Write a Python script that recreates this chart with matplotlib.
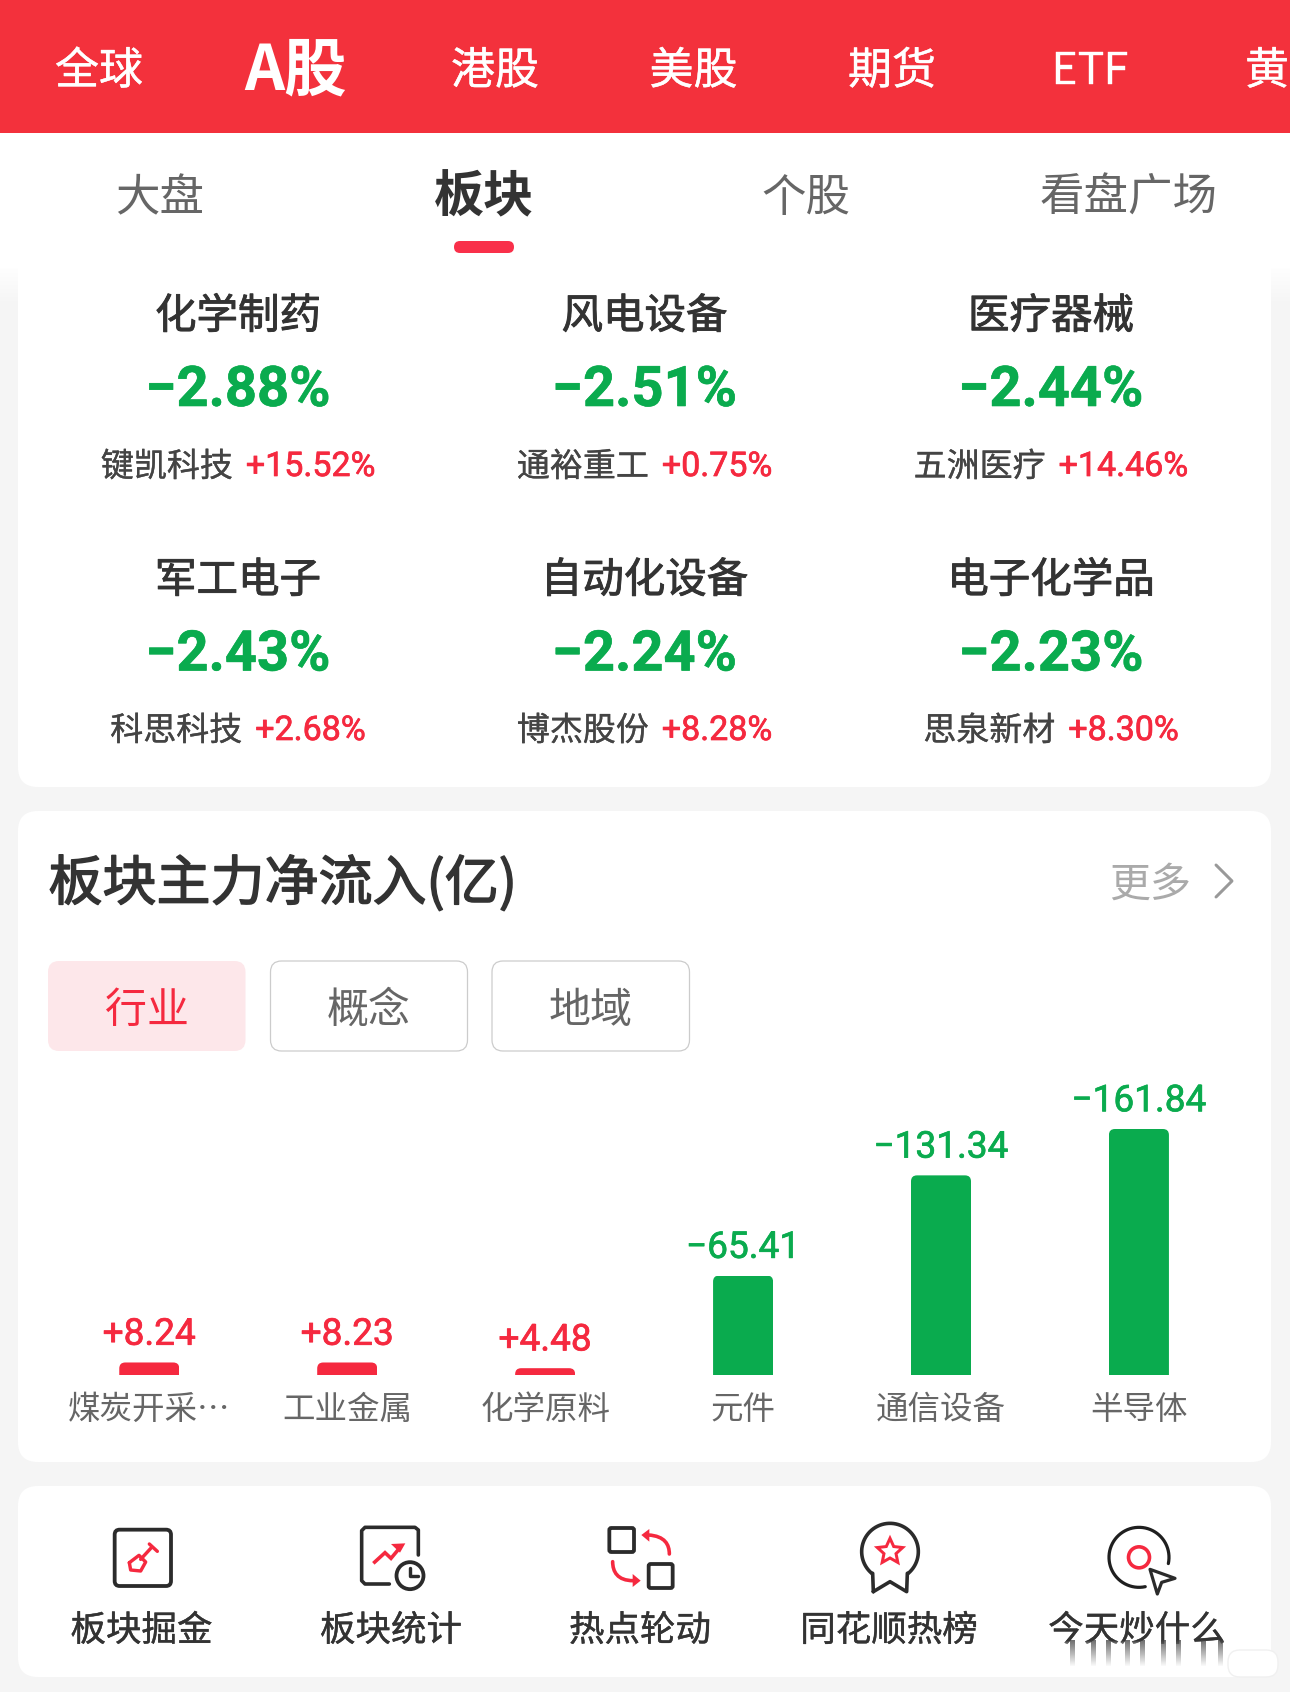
import numpy as np
import matplotlib
matplotlib.use("Agg")
import matplotlib.pyplot as plt
import matplotlib.patheffects as pe
from matplotlib.patches import FancyBboxPatch, Polygon, Circle
from matplotlib.path import Path
from matplotlib.patches import PathPatch
from matplotlib.transforms import IdentityTransform

# ---------- data ----------
market_tabs = ["全球", "A股", "港股", "美股", "期货", "ETF", "黄"]
view_tabs = ["大盘", "板块", "个股", "看盘广场"]
sector_names = ["化学制药", "风电设备", "医疗器械", "军工电子", "自动化设备", "电子化学品"]
sector_changes = ["−2.88%", "−2.51%", "−2.44%", "−2.43%", "−2.24%", "−2.23%"]
leader_names = ["键凯科技", "通裕重工", "五洲医疗", "科思科技", "博杰股份", "思泉新材"]
leader_changes = ["+15.52%", "+0.75%", "+14.46%", "+2.68%", "+8.28%", "+8.30%"]
chart_title = "板块主力净流入(亿)"
filter_tabs = ["行业", "概念", "地域"]
flow_categories = ["煤炭开采…", "工业金属", "化学原料", "元件", "通信设备", "半导体"]
flow_values = [8.24, 8.23, 4.48, -65.41, -131.34, -161.84]
tool_labels = ["板块掘金", "板块统计", "热点轮动", "同花顺热榜", "今天炒什么"]

# ---------- style ----------
CJK = ["Noto Sans CJK SC", "DejaVu Sans"]
NUM = ["Roboto", "DejaVu Sans"]
RED = "#f5293f"
GREEN = "#0aab4e"
HEAD = "#f3313c"
DARK = "#333333"
GRAY = "#666666"
BG = "#f5f5f5"
W, H = 1290, 1692

fig = plt.figure(figsize=(W / 100, H / 100), dpi=100, facecolor=BG)
bg = fig.add_axes([0, 0, 1, 1], zorder=0)
bg.set_xlim(0, W)
bg.set_ylim(H, 0)
bg.axis("off")
P = 0.72  # px -> pt


def T(x, y, s, px, color=DARK, weight="normal", family=CJK, ha="center", va="center", ax=bg, stroke=0):
    t = ax.text(x, y, s, fontsize=px * P, color=color, fontweight=weight,
                family=family, ha=ha, va=va, clip_on=False)
    if stroke:
        t.set_path_effects([pe.withStroke(linewidth=stroke * P, foreground=color)])
    return t


def box(x0, y0, x1, y1, r, fc="white", ec="none", lw=0, z=1):
    p = FancyBboxPatch((x0, y0), x1 - x0, y1 - y0,
                       boxstyle=f"round,pad=0,rounding_size={r}",
                       fc=fc, ec=ec, lw=lw, zorder=z, mutation_aspect=1)
    bg.add_patch(p)
    return p


def line(pts, color=DARK, lw=3.2, z=3, join="round", cap="round"):
    pts = np.asarray(pts, float)
    bg.plot(pts[:, 0], pts[:, 1], color=color, lw=lw * P, zorder=z,
            solid_joinstyle=join, solid_capstyle=cap)


def arc(cx, cy, r, a0, a1, n=60):
    a = np.radians(np.linspace(a0, a1, n))
    return np.c_[cx + r * np.cos(a), cy + r * np.sin(a)]


# ---------- page backgrounds ----------
bg.add_patch(plt.Rectangle((0, 133), W, 135, fc="white", ec="none", zorder=0.5))
grad = np.dstack([np.ones((40, 1)), np.ones((40, 1)), np.ones((40, 1)), np.linspace(1, 0, 40)[:, None]])
for ex in [(0, 18), (1271, W)]:
    bg.imshow(grad, extent=(ex[0], ex[1], 305, 265), aspect="auto", zorder=0.6, interpolation="bilinear")
bg.set_xlim(0, W)
bg.set_ylim(H, 0)

bg.add_patch(plt.Rectangle((0, 0), W, 133, fc=HEAD, ec="none", zorder=1))
box(18, 250, 1271, 787, 20)
bg.add_patch(plt.Rectangle((18, 240), 1253, 40, fc="white", ec="none", zorder=1))
box(18, 811, 1271, 1462, 20)
box(18, 1486, 1271, 1677, 20)

# ---------- market header ----------
market_x = [99, 296, 495, 693.5, 892, 1090, 1267]
for i, (s, x) in enumerate(zip(market_tabs, market_x)):
    if i == 1:
        T(x, 71, s, 62.5, "white", "bold")
    else:
        T(x, 71, s, 44, "white", stroke=0.4)

# ---------- view tabs ----------
view_x = [160, 484, 806, 1129]
for i, (s, x) in enumerate(zip(view_tabs, view_x)):
    if i == 1:
        T(x, 198, s, 50, DARK, "bold")
    else:
        T(x, 198, s, 44.5, GRAY)
box(454, 241, 514, 253, 6, fc="#f9304a", z=2)

# ---------- sector grid ----------
col_x = [238, 644.5, 1051]
row_y = [(317, 391, 467), (581, 655.5, 731)]
renderer = fig.canvas.get_renderer()
GAP = 13
for i in range(6):
    r, c = divmod(i, 3)
    x = col_x[c]
    y0, y1, y2 = row_y[r]
    T(x, y0, sector_names[i], 41.5, DARK, stroke=0.9)
    T(x, y1, sector_changes[i], 56, GREEN, "bold", NUM, stroke=0.6)
    a = T(0, y2, leader_names[i], 33, "#444444", ha="left", stroke=0.3)
    b = T(0, y2, leader_changes[i], 34, RED, "normal", NUM, ha="left", stroke=0.7)
    wa = a.get_window_extent(renderer).width
    wb = b.get_window_extent(renderer).width
    left = x - (wa + wb + GAP) / 2
    a.set_x(left)
    b.set_x(left + wa + GAP)

# ---------- chart card ----------
T(48.5, 884, chart_title, 54, DARK, ha="left", stroke=1.5)
T(1150, 885, "更多", 41, "#aaaaaa")
line([(1216, 865), (1232, 881), (1216, 897)], "#999999", 3)

btn = [(48, 245.5), (270.5, 467.5), (492, 689.5)]
for i, (s, (x0, x1)) in enumerate(zip(filter_tabs, btn)):
    if i == 0:
        box(x0, 961, x1, 1051, 11, fc="#fde7ea", z=2)
        T((x0 + x1) / 2, 1011, s, 42, RED)
    else:
        box(x0, 961, x1, 1051, 11, fc="white", ec="#cccccc", lw=0.9, z=2)
        T((x0 + x1) / 2 - 0.5, 1011, s, 42, GRAY)

# chart axes: pixel frame holds the six categories; y scale = 1.52 px per unit
PX_PER_UNIT = 1.52
BASE_Y, TOP_Y = 1375, 1000
LEFT_X, RIGHT_X = 50.3, 1237.9
ax = fig.add_axes([LEFT_X / W, 1 - BASE_Y / H, (RIGHT_X - LEFT_X) / W, (BASE_Y - TOP_Y) / H], zorder=2)
ax.patch.set_alpha(0)
ax.set_xlim(-0.5, 5.5)
ax.set_ylim(0, (BASE_Y - TOP_Y) / PX_PER_UNIT)
for sp in ax.spines.values():
    sp.set_visible(False)
ax.set_yticks([])
xs = np.arange(len(flow_values))
heights = np.abs(flow_values)
colors = [RED if v > 0 else GREEN for v in flow_values]
bars = ax.bar(xs, heights, width=60 / 197.93, color=colors, linewidth=0)
for b in bars:
    bb = b.get_window_extent(renderer)
    clip = FancyBboxPatch((bb.x0, bb.y0 - 30), bb.width, bb.height + 30,
                          boxstyle="round,pad=0,rounding_size=6",
                          transform=IdentityTransform())
    b.set_clip_path(clip)
labels = [f"+{v:.2f}" if v > 0 else f"−{abs(v):.2f}" for v in flow_values]
for t, c in zip(ax.bar_label(bars, labels=labels, padding=7, fontsize=37 * P, family=NUM), colors):
    t.set_color(c)
    t.set_path_effects([pe.withStroke(linewidth=0.7 * P, foreground=c)])
ax.set_xticks(xs, flow_categories, fontsize=32.5 * P, color=GRAY, family=CJK)
ax.tick_params(axis="x", length=0, pad=13.5)

# ---------- tool row ----------
tool_x = [141.5, 391, 640, 889, 1137]
for s, x in zip(tool_labels, tool_x):
    T(x, 1631, s, 35.5, DARK, stroke=0.4)


def z5(zx, zy):
    return (90 + zx / 3, 1510 + zy / 3)


def z6(zx, zy):
    return (590 + zx / 3, 1510 + zy / 3)


def z4(zx, zy):
    return (1030 + zx / 3, 1500 + zy / 3)


# icon 1: shovel in frame
x0, y0 = z5(74, 59)
x1, y1 = z5(243, 228)
box(x0, y0, x1, y1, 5, fc="none", ec="#2b2b2b", lw=3.8 * P, z=3)
line([z5(185, 112), z5(152, 148)], RED, 3.4)
line([z5(178, 102), z5(202, 124)], RED, 3.4)
line([z5(118, 158), z5(147, 136), z5(167, 156), z5(152, 183), z5(122, 180), z5(118, 158)], RED, 3.4)

# icon 2: stats frame with clock
line([z5(985, 135), z5(985, 60), z5(975, 52), z5(825, 52), z5(815, 62), z5(815, 212), z5(825, 222), z5(898, 222)],
     "#2b2b2b", 3.6)
bg.add_patch(Circle(z5(960, 197), 13.5, fc="white", ec="#2b2b2b", lw=3.8 * P, zorder=3))
line([z5(960, 175), z5(960, 197), z5(985, 197)], "#2b2b2b", 3.4, z=4)
line([z5(850, 160), z5(885, 128), z5(903, 145), z5(928, 115)], RED, 3.6, cap="butt", join="miter")
bg.add_patch(Polygon([z5(903, 102), z5(946, 100), z5(930, 128)], fc=RED, ec="none", zorder=3))

# icon 3: rotation
box(*z6(58, 54), *z6(132, 126), 2, fc="none", ec="#2b2b2b", lw=3.8 * P, z=3)
box(*z6(176, 162), *z6(248, 234), 2, fc="none", ec="#2b2b2b", lw=3.8 * P, z=3)
curve_a = [z6(238, 132), z6(238, 104), z6(225, 78), z6(175, 75)]
curve_b = [z6(68, 155), z6(68, 185), z6(82, 212), z6(130, 212)]
for cv, head in [(curve_a, [z6(178, 57), z6(154, 75), z6(178, 95)]),
                 (curve_b, [z6(128, 192), z6(152, 212), z6(128, 231)])]:
    bg.add_patch(PathPatch(Path(cv, [Path.MOVETO, Path.CURVE4, Path.CURVE4, Path.CURVE4]),
                           fc="none", ec=RED, lw=3.6 * P, zorder=3, capstyle="round"))
    bg.add_patch(Polygon(head, fc=RED, ec="none", zorder=3))

# icon 4: medal
cx4, cy4 = z6(900, 125)
r4 = 85 / 3
medal = np.vstack([[z6(850, 245)], [z6(848, 190)], arc(cx4, cy4, r4, 130, 410), [z6(952, 190)], [z6(950, 245)],
                   [z6(900, 215)], [z6(850, 245)]])
line(medal, "#2b2b2b", 3.6)
ang = np.radians(np.arange(0, 360, 36) - 90)
rad = np.where(np.arange(10) % 2 == 0, 40 / 3, 19 / 3)
star = np.c_[cx4 + rad * np.cos(ang), cy4 + rad * np.sin(ang)]
bg.add_patch(Polygon(star, closed=True, fc="white", ec=RED, lw=3.0 * P, zorder=3, joinstyle="miter"))

# icon 5: target and cursor
cc = z4(327, 172)
line(arc(cc[0], cc[1], 30, 78, 372), "#1f1f1f", 3.2)
bg.add_patch(Circle(cc, 10.5, fc="white", ec=RED, lw=3.6 * P, zorder=3))
bg.add_patch(Polygon([z4(360, 208), z4(435, 235), z4(395, 247), z4(382, 282)], closed=True,
                     fc="white", ec="#2b2b2b", lw=3.2 * P, zorder=4, joinstyle="round"))

# ---------- watermark ghost ----------
wm = np.dstack([np.ones((30, 1)), np.ones((30, 1)), np.ones((30, 1)), np.clip(np.linspace(0, 3, 30), 0, 1)[:, None]])
bg.imshow(wm, extent=(1045, 1232, 1668, 1640), aspect="auto", zorder=5, interpolation="bilinear")
for sx in [1072, 1093, 1108, 1127, 1142, 1163, 1178, 1203, 1220]:
    st = np.zeros((30, 1, 4))
    st[..., :3] = 0.25
    st[..., 3] = np.linspace(0.75, 0, 30)[:, None]
    bg.imshow(st, extent=(sx - 2.5, sx + 2.5, 1667, 1640), aspect="auto", zorder=6, interpolation="bilinear")
box(1228, 1650, 1278, 1677, 12, fc="white", ec="#f0f0f0", lw=1, z=5)
bg.set_xlim(0, W)
bg.set_ylim(H, 0)

fig.savefig("out.png", dpi=100, facecolor=fig.get_facecolor())
